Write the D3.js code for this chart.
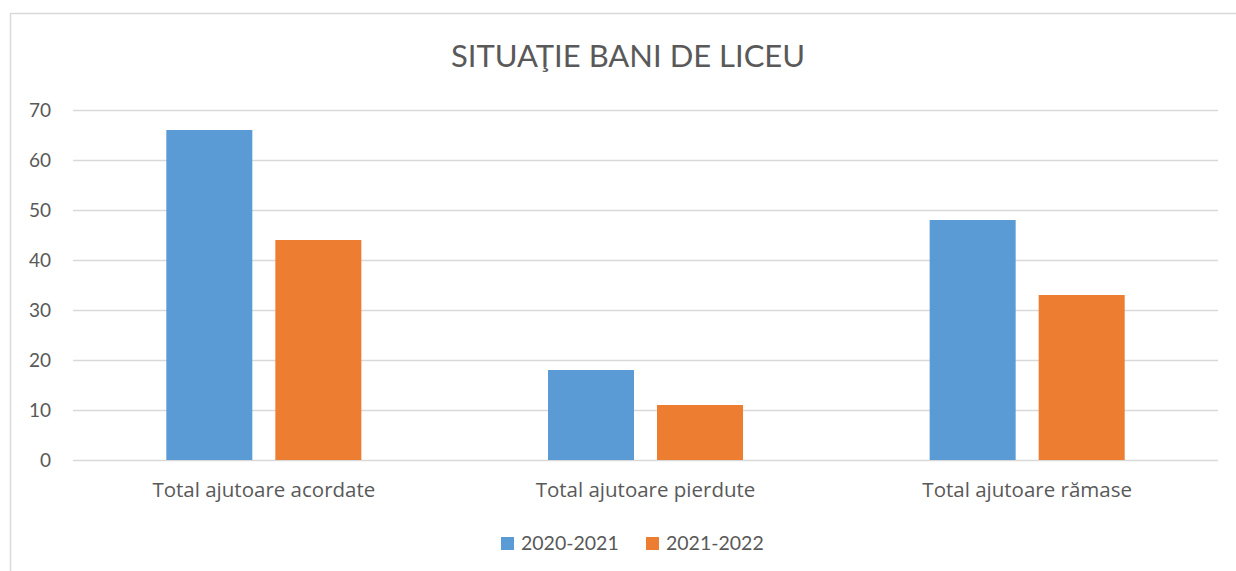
<!DOCTYPE html>
<html>
<head>
<meta charset="utf-8">
<script src="https://cdn.jsdelivr.net/npm/d3@7"></script>
<style>
  body { margin: 0; background: #fff; }
  text { font-family: Lato, "Open Sans", sans-serif; fill: #595959; }
</style>
</head>
<body>
<div class="chart"></div>
<script>
const categories = ["Total ajutoare acordate", "Total ajutoare pierdute", "Total ajutoare rămase"];
const seriesNames = ["2020-2021", "2021-2022"];
const values2020 = [66, 18, 48];
const values2021 = [44, 11, 33];
const yTicks = [0, 10, 20, 30, 40, 50, 60, 70];
const colors = ["#5B9BD5", "#ED7D31"];

const W = 1236, H = 571;
const plot = { left: 73, right: 1218, top: 110, bottom: 460 };

const svg = d3.select(".chart").append("svg")
  .attr("width", W)
  .attr("height", H);

// chart frame
svg.append("rect")
  .attr("x", 10.5).attr("y", 13.5)
  .attr("width", W).attr("height", H)
  .attr("fill", "none")
  .attr("stroke", "#D9D9D9")
  .attr("stroke-width", 1.5);

svg.append("text")
  .attr("x", 628).attr("y", 67)
  .attr("text-anchor", "middle")
  .style("font-size", "31px")
  .text("SITUAŢIE BANI DE LICEU");

const y = d3.scaleLinear().domain([0, 70]).range([plot.bottom, plot.top]);

const x0 = d3.scaleBand()
  .domain(categories)
  .range([plot.left, plot.right])
  .paddingInner(0.489)
  .paddingOuter(0.2445);

const x1 = d3.scaleBand()
  .domain(seriesNames)
  .range([0, x0.bandwidth()])
  .paddingInner(0.211);

// gridlines + y labels
const yAxis = svg.append("g")
  .attr("transform", `translate(${plot.left},0)`)
  .call(d3.axisLeft(y).tickValues(yTicks).tickSize(-(plot.right - plot.left)).tickPadding(22));
yAxis.select(".domain").remove();
yAxis.selectAll(".tick line").attr("stroke", "#D9D9D9").attr("stroke-width", 1.5);
yAxis.selectAll(".tick text")
  .style("font-size", "19px")
  .style("font-family", "Lato, sans-serif")
  .attr("fill", "#595959");

const rows = categories.map((c, i) => ({ cat: c, vals: [values2020[i], values2021[i]] }));

svg.append("g").selectAll("g")
  .data(rows)
  .join("g")
  .attr("transform", d => `translate(${x0(d.cat)},0)`)
  .selectAll("rect")
  .data(d => d.vals.map((v, j) => ({ key: seriesNames[j], v, j })))
  .join("rect")
  .attr("x", d => x1(d.key))
  .attr("width", x1.bandwidth())
  .attr("y", d => y(d.v))
  .attr("height", d => y(0) - y(d.v))
  .attr("fill", d => colors[d.j]);

// category labels
const xAxis = svg.append("g")
  .attr("transform", `translate(0,${plot.bottom})`)
  .call(d3.axisBottom(x0).tickSize(0).tickPadding(22));
xAxis.select(".domain").remove();
xAxis.selectAll(".tick text")
  .style("font-size", "20.5px")
  .style("font-family", "'Open Sans', sans-serif")
  .attr("fill", "#595959");

// legend
const legend = svg.append("g");
const legendX = [501, 646];
seriesNames.forEach((s, i) => {
  const g = legend.append("g").attr("transform", `translate(${legendX[i]},537)`);
  g.append("rect").attr("width", 13).attr("height", 13).attr("fill", colors[i]);
  g.append("text").attr("x", 20).attr("y", 13)
    .style("font-size", "19.5px")
    .text(s);
});
</script>
</body>
</html>
